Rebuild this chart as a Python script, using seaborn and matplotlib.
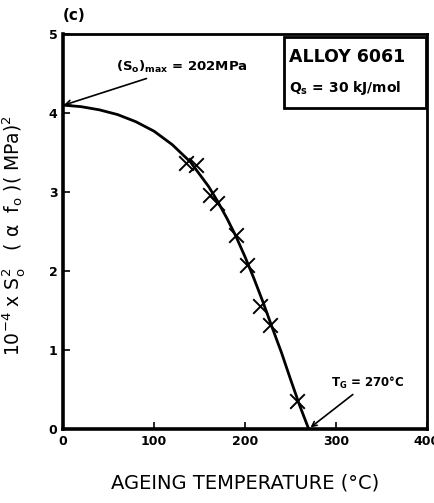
import matplotlib
matplotlib.use("Agg")
import matplotlib.pyplot as plt
import seaborn as sns
import pandas as pd

# measured points (x markers)
temp_pts = [135, 146, 161, 169, 190, 202, 217, 227, 257]
s2_pts = [3.37, 3.34, 2.96, 2.86, 2.46, 2.08, 1.56, 1.32, 0.36]

# fitted curve
temp_curve = [0, 20, 40, 60, 80, 100, 120, 140, 160, 170, 180, 190, 200, 210, 220, 230, 240, 250, 260, 270]
s2_curve = [4.10, 4.08, 4.04, 3.98, 3.89, 3.77, 3.60, 3.38, 3.07, 2.88, 2.67, 2.44, 2.18, 1.90, 1.60, 1.28, 0.97, 0.63, 0.30, 0.0]

x_ticks = [0, 100, 200, 300, 400]
y_ticks = [0, 1, 2, 3, 4, 5]

sns.set_style("ticks")
plt.rcParams['font.family'] = ['DejaVu Sans']
plt.rcParams['mathtext.fontset'] = 'dejavusans'
plt.rcParams['mathtext.default'] = 'regular'
for k in ['text.color', 'axes.labelcolor', 'xtick.color', 'ytick.color', 'axes.edgecolor']:
    plt.rcParams[k] = 'black'

fig = plt.figure(figsize=(4.34, 5.03), dpi=100)
ax = fig.add_axes([63/434, 74/503, 364/434, 395/503])

curve = pd.DataFrame({"T": temp_curve, "S2": s2_curve})
pts = pd.DataFrame({"T": temp_pts, "S2": s2_pts})
sns.lineplot(data=curve, x="T", y="S2", ax=ax, color="black", linewidth=2.0, sort=False)
sns.scatterplot(data=pts, x="T", y="S2", ax=ax, marker="x", s=110, color="black",
                linewidth=1.4, zorder=3)

ax.set_xlim(0, 400)
ax.set_ylim(0, 5)
ax.set_xticks(x_ticks)
ax.set_yticks(y_ticks)
ax.set_xticklabels([str(v) for v in x_ticks], fontsize=9, fontweight='bold')
ax.set_yticklabels([str(v) for v in y_ticks], fontsize=9, fontweight='bold')
ax.tick_params(direction='in', length=5, width=1.2, colors='black', pad=4)
for s in ax.spines.values():
    s.set_linewidth(2.0)
    s.set_color('black')
ax.spines['left'].set_linewidth(2.6)
ax.spines['bottom'].set_linewidth(2.6)

ax.set_xlabel("AGEING TEMPERATURE (°C)", fontsize=14, labelpad=19)
ax.set_ylabel(r"$10^{-4}$ x $S_o^2$   ( $\alpha$  $f_o$ )( MPa)$^2$", fontsize=13.5)
ax.yaxis.set_label_coords(-0.10, 0.49)

# annotations
ax.annotate(r"$(S_o)_{max}$ = 202MPa", xy=(1, 4.1), xytext=(58, 4.58),
            fontsize=9.5, fontweight='bold', va='center', ha='left',
            arrowprops=dict(arrowstyle='->', color='black', lw=1.2, shrinkA=0, shrinkB=0))
ax.annotate(r"$T_G$ = 270°C", xy=(272, 0.02), xytext=(294, 0.58),
            fontsize=8.5, fontweight='bold', va='center', ha='left',
            arrowprops=dict(arrowstyle='->', color='black', lw=1.2, shrinkA=0, shrinkB=0))

# alloy box
fig.patches.append(plt.Rectangle((284/434, 1 - 108/503), 142/434, 71/503,
                                 transform=fig.transFigure, fill=True, facecolor='white',
                                 edgecolor='black', linewidth=2.0, zorder=5))
fig.text(289/434, 1 - 57/503, "ALLOY 6061", fontsize=12.5, fontweight='bold',
         va='center', ha='left', zorder=6)
fig.text(289/434, 1 - 88/503, r"$Q_s$ = 30 kJ/mol", fontsize=10, fontweight='bold',
         va='center', ha='left', zorder=6)

fig.text(63/434, 1 - 16/503, "(c)", fontsize=11, fontweight='bold', va='center', ha='left')

fig.savefig("out.png", dpi=100)
